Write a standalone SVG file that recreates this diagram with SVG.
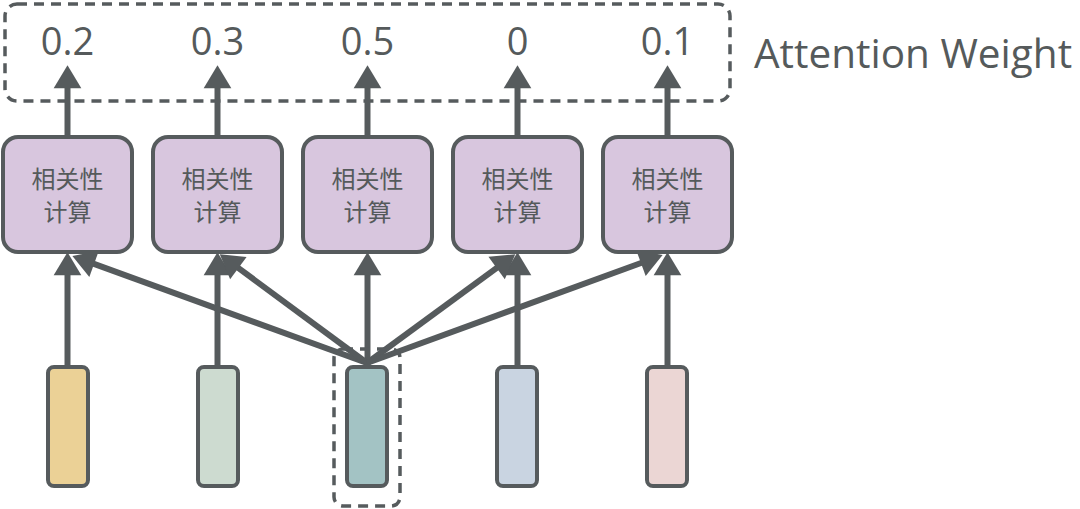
<svg xmlns="http://www.w3.org/2000/svg" width="1080" height="509" viewBox="0 0 1080 509">
<style>
.box{fill:#d8c6de;stroke:#565b5d;stroke-width:4}
.bar{stroke:#565b5d;stroke-width:4}
.lbl{font-family:"Noto Sans CJK SC","Noto Sans",sans-serif;font-size:24px;fill:#555a5b;text-anchor:middle}
.num{font-family:"Open Sans","Noto Sans",sans-serif;font-size:38px;fill:#555a5b;text-anchor:middle}
.dash{fill:none;stroke:#565b5d;stroke-width:3.5;stroke-dasharray:10 7}
.conn line{stroke:#565b5d;stroke-width:6;marker-end:url(#ah)}
</style>
<defs>
<marker id="ah" markerUnits="userSpaceOnUse" markerWidth="30" markerHeight="30" viewBox="0 -13 22 26" refX="2" refY="0" orient="auto">
<path d="M0,-12 L20,0 L0,12 z" fill="#565b5d"/>
</marker>
</defs>
<rect id="weights-box" class="dash" x="5" y="4" width="725" height="97" rx="12"/>
<g id="weights">
<text class="num" x="67.5" y="55">0.2</text>
<text class="num" x="217.5" y="55">0.3</text>
<text class="num" x="367.5" y="55">0.5</text>
<text class="num" x="517.5" y="55">0</text>
<text class="num" x="667.5" y="55">0.1</text>
</g>
<text id="attention-label" x="754" y="68" font-family="Open Sans, Noto Sans, sans-serif" font-size="40.5" fill="#555a5b">Attention Weight</text>
<g class="conn" id="connectors">
<line x1="67.5" y1="139" x2="67.5" y2="86"/>
<line x1="217.5" y1="139" x2="217.5" y2="86"/>
<line x1="367.5" y1="139" x2="367.5" y2="86"/>
<line x1="517.5" y1="139" x2="517.5" y2="86"/>
<line x1="667.5" y1="139" x2="667.5" y2="86"/>
<line x1="67.5" y1="367" x2="67.5" y2="273"/>
<line x1="217.5" y1="367" x2="217.5" y2="273"/>
<line x1="367.5" y1="367" x2="367.5" y2="273"/>
<line x1="517.5" y1="367" x2="517.5" y2="273"/>
<line x1="667.5" y1="367" x2="667.5" y2="273"/>
<line x1="367" y1="363" x2="91.9" y2="263.1"/>
<line x1="367" y1="363" x2="236.5" y2="266.7"/>
<line x1="367" y1="363" x2="498.5" y2="266.6"/>
<line x1="367" y1="363" x2="643.1" y2="262.2"/>
</g>
<g id="node-1"><rect class="box" x="3" y="137" width="129" height="115" rx="15"/><text class="lbl" x="67.5" y="188">相关性</text><text class="lbl" x="67.5" y="221">计算</text></g>
<g id="node-2"><rect class="box" x="153" y="137" width="129" height="115" rx="15"/><text class="lbl" x="217.5" y="188">相关性</text><text class="lbl" x="217.5" y="221">计算</text></g>
<g id="node-3"><rect class="box" x="303" y="137" width="129" height="115" rx="15"/><text class="lbl" x="367.5" y="188">相关性</text><text class="lbl" x="367.5" y="221">计算</text></g>
<g id="node-4"><rect class="box" x="453" y="137" width="129" height="115" rx="15"/><text class="lbl" x="517.5" y="188">相关性</text><text class="lbl" x="517.5" y="221">计算</text></g>
<g id="node-5"><rect class="box" x="603" y="137" width="129" height="115" rx="15"/><text class="lbl" x="667.5" y="188">相关性</text><text class="lbl" x="667.5" y="221">计算</text></g>
<g id="input-1"><rect class="bar" x="48" y="367" width="40" height="119" rx="6" fill="#ebd196"/></g>
<g id="input-2"><rect class="bar" x="198" y="367" width="40" height="119" rx="6" fill="#cddbd0"/></g>
<g id="input-3"><rect class="bar" x="347" y="367" width="40" height="119" rx="6" fill="#a3c3c4"/><rect class="dash" x="334" y="349" width="66" height="157" rx="9"/></g>
<g id="input-4"><rect class="bar" x="497" y="367" width="40" height="119" rx="6" fill="#c9d4e1"/></g>
<g id="input-5"><rect class="bar" x="647" y="367" width="40" height="119" rx="6" fill="#ebd6d4"/></g>
</svg>
